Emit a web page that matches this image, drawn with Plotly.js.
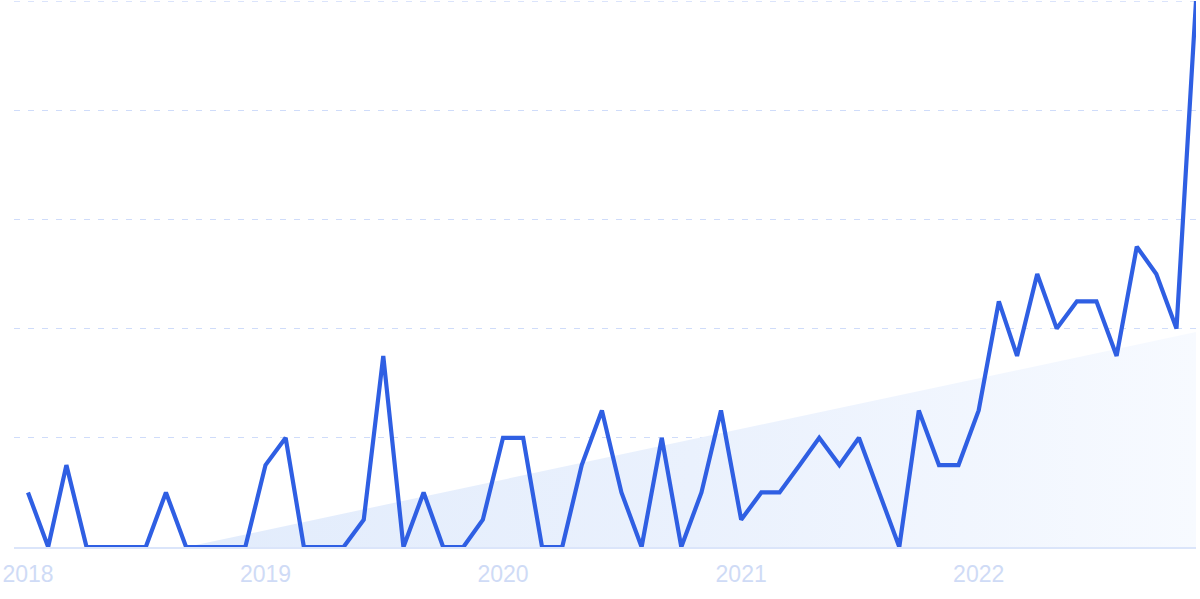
<!DOCTYPE html>
<html>
<head>
<meta charset="utf-8">
<script src="https://cdn.plot.ly/plotly-3.0.1.min.js"></script>
<style>
  html, body { margin: 0; padding: 0; background: #ffffff; }
  #chart { width: 1200px; height: 599px; }
</style>
</head>
<body>
<div id="chart"></div>
<script>
// Monthly search interest, Jan 2018 .. Dec 2022
const startYear = 2018;
const interest = [
  10, 0, 15, 0, 0, 0, 0, 10, 0, 0, 0, 0,
  15, 20, 0, 0, 0, 5, 35, 0, 10, 0, 0, 5,
  20, 20, 0, 0, 15, 25, 10, 0, 20, 0, 10, 25,
  5, 10, 10, 15, 20, 15, 20, 10, 0, 25, 15, 15,
  25, 45, 35, 50, 40, 45, 45, 35, 55, 50, 40, 100
];
const yearLabels = ['2018', '2019', '2020', '2021', '2022'];
const gridValues = [20, 40, 60, 80, 100];

// month dates (ms)
const monthMs = interest.map((_, i) => Date.UTC(startYear + Math.floor(i / 12), i % 12, 1));

// linear trend (least squares over month index), clipped at zero
const n = interest.length;
const meanI = (n - 1) / 2;
const meanY = interest.reduce((a, b) => a + b, 0) / n;
let sxy = 0, sxx = 0;
interest.forEach((v, i) => { sxy += (i - meanI) * (v - meanY); sxx += (i - meanI) * (i - meanI); });
const slope = sxy / sxx;
const intercept = meanY - slope * meanI;
const zeroIdx = -intercept / slope;
function idxToMs(f) {
  const k = Math.min(Math.max(Math.floor(f), 0), n - 2);
  return monthMs[k] + (f - k) * (monthMs[k + 1] - monthMs[k]);
}
const trendX = [idxToMs(zeroIdx), monthMs[n - 1]];
const trendY = [0, intercept + slope * (n - 1)];

const trendTrace = {
  x: trendX, y: trendY,
  type: 'scatter', mode: 'lines',
  line: { width: 0, color: 'rgba(0,0,0,0)' },
  fill: 'tozeroy',
  fillcolor: 'rgba(232,240,252,1)',
  fillgradient: {
    type: 'horizontal',
    colorscale: [[0, 'rgba(226,236,252,1)'], [0.5, 'rgba(234,241,253,1)'], [1, 'rgba(247,250,255,1)']]
  },
  hoverinfo: 'skip', showlegend: false
};

const lineTrace = {
  x: monthMs, y: interest,
  type: 'scatter', mode: 'lines',
  line: { color: '#2f5fe3', width: 4.2, shape: 'linear' },
  hoverinfo: 'skip', showlegend: false
};

const layout = {
  width: 1200, height: 599,
  margin: { l: 14, r: 4, t: 1, b: 52 },
  paper_bgcolor: '#ffffff', plot_bgcolor: '#ffffff',
  showlegend: false,
  xaxis: {
    type: 'date',
    range: [Date.UTC(2017, 11, 10, 12), monthMs[n - 1]],
    tickvals: yearLabels.map(y => Date.UTC(+y, 0, 1)),
    ticktext: yearLabels,
    ticks: '',
    ticklabelstandoff: 6,
    showgrid: false,
    zeroline: false,
    showline: true, linecolor: '#dbe5fa', linewidth: 1.5,
    tickfont: { family: 'Liberation Sans, Arial, sans-serif', size: 23, color: '#cfdbf6' },
    fixedrange: true
  },
  yaxis: {
    range: [0, 100],
    tickvals: gridValues,
    showticklabels: false,
    ticks: '',
    showgrid: true, gridcolor: '#cfdcfa', gridwidth: 1.2, griddash: '6px,8px',
    zeroline: false,
    fixedrange: true
  },
  shapes: [{
    type: 'line', xref: 'paper', yref: 'y', x0: 0, x1: 1, y0: 100, y1: 100,
    line: { color: '#cfdcfa', width: 1.5, dash: '6px,8px' }, layer: 'below'
  }]
};

Plotly.newPlot('chart', [trendTrace, lineTrace], layout, { staticPlot: true, displayModeBar: false });
</script>
</body>
</html>
